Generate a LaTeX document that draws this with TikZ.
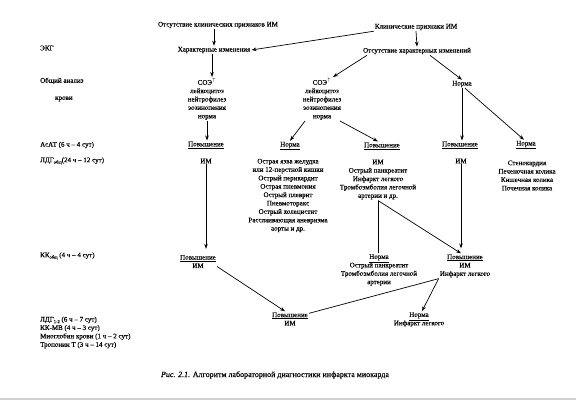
\documentclass[tikz,border=0pt]{standalone}
\usepackage{fontspec}
\setmainfont{Liberation Serif}[BoldFont={Liberation Serif},BoldFeatures={FakeBold=0.25},BoldItalicFont={Liberation Serif Italic},BoldItalicFeatures={FakeBold=0.25}]
\usetikzlibrary{arrows.meta,calc}
\newcommand\fs{\fontsize{7}{8.4}\selectfont\bfseries}
\newcommand\lsub[1]{\raisebox{-0.45ex}{\fontsize{4.5}{5}\selectfont #1}}
\begin{document}
\begin{tikzpicture}[x=1pt,y=-1pt,
  lbl/.style={inner sep=1pt, align=center, font=\fs},
  side/.style={anchor=west, inner sep=0pt, align=left, font=\fs},
  arr/.style={-{Stealth[length=5pt,width=3.6pt]}, line width=0.7pt},
  ln/.style={line width=0.7pt}]
\useasboundingbox (0,0) rectangle (576,404);

% left labels
\node[side] (s1) at (40,48) {ЭКГ};
\node[side] (s2) at (40,81) {Общий анализ};
\node[side] (s3) at (55,99) {крови};
\node[side] (s4) at (40,145) {АсАТ (6 ч – 4 сут)};
\node[side] (s5) at (40,161) {ЛДГ\lsub{общ}(24 ч – 12 сут)};
\node[side] (s6) at (40,256) {КК\lsub{общ} (4 ч – 4 сут)};
\node[side] (s7) at (40,332.5) {ЛДГ\lsub{1-2} (6 ч – 7 сут)\\КК-МВ (4 ч – 3 сут)\\Миоглобин крови (1 ч – 2 сут)\\Тропонин Т (3 ч – 14 сут)};

% top
\node[lbl] (n1) at (218,25) {Отсутствие клинических признаков ИМ};
\node[lbl] (n2) at (416,27) {Клинические признаки ИМ};
\node[lbl] (e1) at (214,50) {Характерные изменения};
\node[lbl] (e2) at (417,51) {Отсутствие характерных изменений};
\node[lbl] (b1) at (207,99) {СОЭ$^{\uparrow}$\\лейкоцитоз\\нейтрофилез\\эозинопения\\норма};
\node[lbl] (b2) at (322,99) {СОЭ$^{\uparrow}$\\лейкоцитоз\\нейтрофилез\\эозинопения\\норма};
\node[lbl] (b3) at (462,84) {Норма};

% AsAT row
\node[lbl] (p1) at (206,145) {\underline{Повышение}};
\node[lbl] (im1) at (206,161) {ИМ};
\node[lbl] (c2) at (290,146) {\underline{Норма}};
\node[lbl] (l2) at (288,195.5) {Острая язва желудка\\или 12-перстной кишки\\Острый перикардит\\Острая пневмония\\Острый плеврит\\Пневмоторакс\\Острый холецистит\\Расслаивающая аневризма\\аорты и др.};
\node[lbl] (c3) at (382,146) {\underline{Повышение}};
\node[lbl] (l3) at (378,179.5) {ИМ\\Острый панкреатит\\Инфаркт легкого\\Тромбоэмболия легочной\\артерии и др.};
\node[lbl] (c4) at (460,145) {\underline{Повышение}};
\node[lbl] (im4) at (461,161) {ИМ};
\node[lbl] (c5) at (526,145) {\underline{Норма}};
\node[lbl] (l5) at (527,175.5) {Стенокардия\\Печеночная колика\\Кишечная колика\\Почечная колика};

% KK row
\node[lbl] (d1) at (198,261.5) {\underline{Повышение}\\ИМ};
\node[lbl] (d3) at (379,270) {\underline{Норма}\\Острый панкреатит\\Тромбоэмболия легочной\\артерии};
\node[lbl] (d4) at (465,266) {\underline{Повышение}\\ИМ\\Инфаркт легкого};

% bottom
\node[lbl] (f1) at (290,319) {\underline{Повышение}\\ИМ};
\node[lbl] (f2) at (419,319.5) {\underline{Норма}\\Инфаркт легкого};

% caption
\node[lbl, font=\fontsize{8}{9.5}\selectfont\bfseries] (cap) at (275,375) {\textit{Рис. 2.1.} Алгоритм лабораторной диагностики инфаркта миокарда};

% connectors
\draw[arr] (e1.north |- n1.south) -- (e1.north);
\draw[arr] (n2.south west) -- (e1.east);
\draw[arr] (n2.south) -- (e2.north);
\draw[arr] ([xshift=-2pt]e1.south) -- ([xshift=-2pt]e1.south |- b1.north);
\draw[arr] ([xshift=5pt]e2.south west) -- ([xshift=11pt]b2.north);
\draw[arr] ([xshift=13pt]e2.south) -- (b3.north);
\draw[arr] (b1.south) -- (b1.south |- p1.north);
\draw[arr] ([xshift=-17pt]b2.south) -- (c2.north);
\draw[arr] ([xshift=18pt]b2.south) -- ([xshift=-4pt]c3.north);
\draw[arr] (b3.south) -- (b3.south |- c4.north);
\draw[arr] ([xshift=3pt]b3.south) -- ([xshift=-2pt]c5.north);
\draw[arr] (im1.south) -- ([yshift=5pt]im1.south |- d1.north);
\draw[arr] (im4.south) -- ([yshift=5pt]im4.south |- d4.north);
\draw[arr] (l3.south) -- ([xshift=-4pt]d4.north);
\draw[ln] (l3.south) -- (l3.south |- d3.north);
\draw[arr] ([yshift=-5pt]d1.east) -- ([xshift=-5pt]f1.north);
\draw[ln] (d4.south west) -- ([yshift=-2pt]f1.north east);
\draw[arr] (d4.south west) -- ([xshift=3pt]f2.north);

\draw[line width=1.2pt, gray!35] (0,399) -- (576,399);
\end{tikzpicture}
\end{document}
